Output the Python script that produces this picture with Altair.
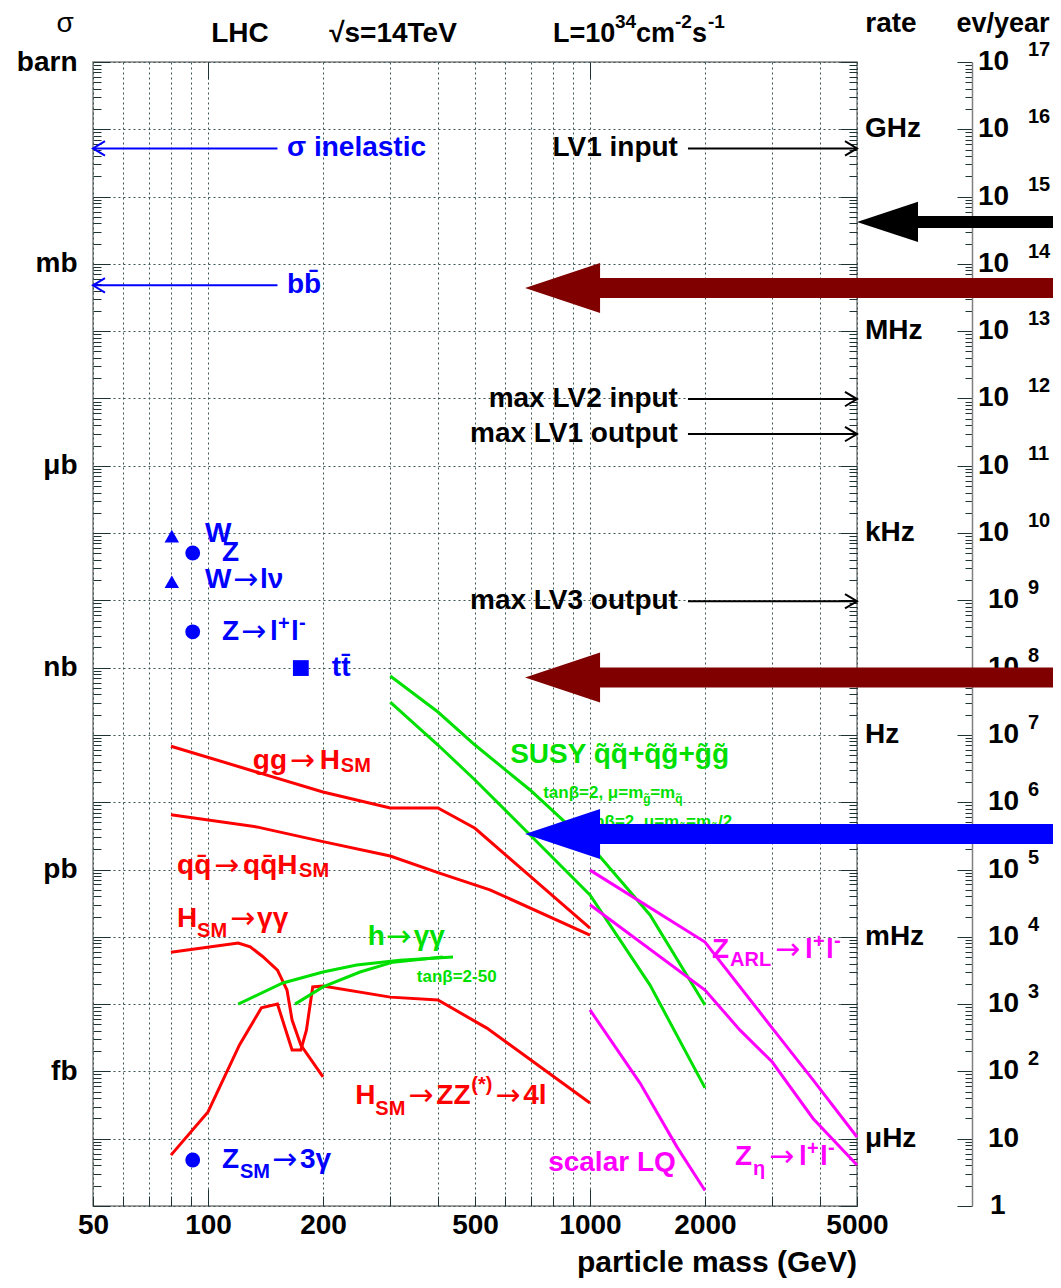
import altair as alt
import pandas as pd

W, H = 764, 1144
FONT = "Liberation Sans"
ARROW_FONT = "DejaVu Sans"
GRID = "#3a5555"
TICK = "#1e3232"
FRAME = "#808080"
RED, GREEN, MAGENTA, BLUE, DARKRED = "#ff0000", "#00e000", "#ff00ff", "#0000ff", "#800000"

# ---------------- series: particle mass (GeV) / cross-section (pb) ----------------
gg_mass = [80, 200, 300, 400, 500, 1000]
gg_xsec = [68, 14.2, 8.2, 8.2, 4.1, 0.135]

qqh_mass = [80, 134, 200, 300, 400, 547, 1000]
qqh_xsec = [6.5, 4.3, 2.6, 1.59, 0.90, 0.50, 0.106]

hgg_mass = [80, 120, 129, 139, 152, 161, 166, 175, 200]
hgg_xsec = [0.059, 0.081, 0.071, 0.051, 0.032, 0.0162, 0.0058, 0.00247, 0.00083]

hzz_mass = [80, 100, 121, 138, 152, 166, 175, 181, 188, 200, 300, 400, 537, 1000]
hzz_xsec = [5.7e-5, 2.5e-4, 2.5e-3, 8.8e-3, 0.010, 0.00208, 0.00208, 0.0041, 0.018,
            0.0186, 0.0127, 0.0115, 4.4e-3, 3.4e-4]

hgg_mssm_a_mass = [120, 157, 200, 245, 318, 438]
hgg_mssm_a_xsec = [0.0100, 0.0206, 0.030, 0.038, 0.045, 0.050]
hgg_mssm_b_mass = [169, 200, 250, 305, 412]
hgg_mssm_b_xsec = [0.0100, 0.018, 0.030, 0.042, 0.050]

susy_a_mass = [300, 400, 500, 697, 1000, 1436, 2000]
susy_a_xsec = [750, 219, 70.8, 15.2, 2.31, 0.211, 0.0097]
susy_b_mass = [300, 400, 500, 697, 1000, 1436, 2000]
susy_b_xsec = [308, 70.8, 21.4, 3.26, 0.418, 0.0192, 5.7e-4]

zarl_a_mass = [1000, 2000, 3000, 3835, 5000]
zarl_a_xsec = [0.98, 0.0837, 4.4e-3, 7.5e-4, 1.06e-4]
zarl_b_mass = [1000, 2000, 2470, 3000, 3835, 5000]
zarl_b_xsec = [0.30, 0.0162, 4.1e-3, 1.38e-3, 2.0e-4, 4.06e-5]

lq_mass = [1000, 1352, 1690, 2000]
lq_xsec = [8.2e-3, 6.7e-4, 7.5e-5, 1.7e-5]

# single measurements (blue markers)
tri_mass = [80.4, 80.4]          # W, W->l nu
tri_xsec = [9.0e4, 1.89e4]
circ_mass = [91.2, 91.2, 91.2]   # Z, Z->ll, Z_SM->3gamma
circ_xsec = [5.05e4, 3.41e3, 4.83e-5]
sq_mass = [175]                  # t tbar
sq_xsec = [986]

# axis ticks / labels
XGRID = [50, 60, 70, 80, 90, 100, 200, 300, 400, 500, 600, 700, 800, 900,
         1000, 2000, 3000, 4000, 5000]
XLABELS = [50, 100, 200, 500, 1000, 2000, 5000]
DECADES = [10.0 ** k for k in range(-5, 13)]
YTICKS = [m * 10.0 ** k for k in range(-5, 12) for m in range(1, 10)] + [1e12]
UNIT_EXP = [12, 9, 6, 3, 0, -3]
UNIT_LAB = ["barn", "mb", "μb", "nb", "pb", "fb"]
RATE_LAB = ["GHz", "MHz", "kHz", "Hz", "mHz", "μHz"]
RATE_XSEC = [1e11, 1e8, 1e5, 1e2, 1e-1, 1e-4]
EV_EXP = list(range(17, 1, -1))

xs = alt.Scale(type="log", domain=[50, 5000], nice=False)
ys = alt.Scale(type="log", domain=[1e-5, 1e12], nice=False)

def XE(axis=None, f="m"):
    return alt.X(f"{f}:Q", scale=xs, axis=axis)

def YE(axis=None, f="s"):
    return alt.Y(f"{f}:Q", scale=ys, axis=axis)

LOGV = "round(log(datum.value)/LN10)"
DEC_TEST = "abs(log(datum.value)/LN10 - round(log(datum.value)/LN10)) < 0.001"
ylab_expr = " : ".join(f"{LOGV} == {e} ? '{l}'" for e, l in zip(UNIT_EXP, UNIT_LAB)) + " : ''"
xlab_expr = "indexof([" + ",".join(str(v) for v in XLABELS) + "], datum.value) >= 0 ? format(datum.value, 'd') : ''"

axis_xa = alt.Axis(orient="bottom", values=XGRID, grid=True, gridDash=[2, 3], gridColor=GRID,
                   gridWidth=1, ticks=False, tickSize=0, domain=False, labelExpr=xlab_expr,
                   labelFont=FONT, labelFontSize=28, labelFontWeight="bold", labelColor="black",
                   labelPadding=5, labelFlush=False, labelOverlap=False, title=None)
axis_ya = alt.Axis(orient="left", values=DECADES, grid=True, gridDash=[2, 3], gridColor=GRID,
                   gridWidth=1, ticks=False, tickSize=0, domain=False, labelExpr=ylab_expr,
                   labelFont=FONT, labelFontSize=28, labelFontWeight="bold", labelColor="black",
                   labelPadding=16, labelFlush=False, labelOverlap=False, title=None)

tick_y = {"condition": {"test": DEC_TEST, "value": 17}, "value": 8}
tick_ev = {"condition": {"test": DEC_TEST, "value": 15}, "value": 7}
tick_x = {"condition": {"test": "datum.value == 100 || datum.value == 1000", "value": 17}, "value": 10}

axis_xb = alt.Axis(orient="top", offset=-H, values=XGRID, tickSize=tick_x, tickColor=TICK,
                   labels=False, domain=False, grid=False, title=None)
axis_yb = alt.Axis(orient="right", offset=-W, values=YTICKS, tickSize=tick_y, tickColor=TICK,
                   labels=False, domain=False, grid=False, title=None)
axis_xc = alt.Axis(orient="bottom", offset=-H, values=[100, 1000], tickSize=17, tickColor=TICK,
                   labels=False, domain=False, grid=False, title=None)
axis_yc = alt.Axis(orient="left", offset=-W, values=YTICKS, tickSize=tick_y, tickColor=TICK,
                   labels=False, domain=False, grid=False, title=None)
axis_yd = alt.Axis(orient="left", offset=-(W + 115), values=YTICKS, tickSize=tick_ev, tickColor=TICK,
                   labels=False, domain=True, domainColor=FRAME, domainWidth=1.5, grid=False, title=None)

carrier_df = pd.DataFrame({"m": [100], "s": [1.0]})
def carrier(xa, ya):
    return alt.Chart(carrier_df).mark_point(opacity=0).encode(x=XE(xa), y=YE(ya))

# ---------------- curves ----------------
series = [
    ("gg", gg_mass, gg_xsec, RED), ("qqh", qqh_mass, qqh_xsec, RED),
    ("hgg", hgg_mass, hgg_xsec, RED), ("hzz", hzz_mass, hzz_xsec, RED),
    ("hgga", hgg_mssm_a_mass, hgg_mssm_a_xsec, GREEN), ("hggb", hgg_mssm_b_mass, hgg_mssm_b_xsec, GREEN),
    ("susya", susy_a_mass, susy_a_xsec, GREEN), ("susyb", susy_b_mass, susy_b_xsec, GREEN),
    ("zarla", zarl_a_mass, zarl_a_xsec, MAGENTA), ("zarlb", zarl_b_mass, zarl_b_xsec, MAGENTA),
    ("lq", lq_mass, lq_xsec, MAGENTA),
]
rows = []
for name, ms, ss, _ in series:
    for m, s in zip(ms, ss):
        rows.append({"series": name, "m": m, "s": s})
lines_df = pd.DataFrame(rows)
lines = alt.Chart(lines_df).mark_line(strokeWidth=3).encode(
    x=XE(axis_xa), y=YE(axis_ya),
    color=alt.Color("series:N", scale=alt.Scale(domain=[s[0] for s in series], range=[s[3] for s in series]), legend=None),
)

def pts(ms, ss, shape, size):
    df = pd.DataFrame({"m": ms, "s": ss})
    return alt.Chart(df).mark_point(shape=shape, filled=True, size=size, color=BLUE, opacity=1).encode(x=XE(), y=YE())

points = [pts(tri_mass, tri_xsec, "triangle-up", 210), pts(circ_mass, circ_xsec, "circle", 220),
          pts(sq_mass, sq_xsec, "square", 250)]

# ---------------- text ----------------
texts = []
def T(m, s, txt, color="black", size=28, dx=0, dy=0, align="left", weight="bold", font=FONT):
    df = pd.DataFrame({"m": [m], "s": [s], "t": [txt]})
    texts.append(alt.Chart(df).mark_text(align=align, baseline="middle", dx=dx, dy=dy, font=font,
                                         fontSize=size, fontWeight=weight, color=color)
                 .encode(x=XE(), y=YE(), text="t:N"))

def TP(m, s, color, parts):
    for txt, dx, dy, size in parts:
        if txt == "→":
            T(m, s, txt, color=color, size=30, dx=dx, dy=dy, weight="normal", font=ARROW_FONT)
        else:
            T(m, s, txt, color=color, size=size, dx=dx, dy=dy)

A = "→"
# header
T(42.3, 3.66e12, "σ", size=28, align="center", weight="normal")
T(121.3, 2.6e12, "LHC", size=28, align="center")
T(305, 2.6e12, "√s=14TeV", size=28, align="center")
TP(800, 2.6e12, "black", [("L=10", 0, 0, 27), ("34", 62, -12, 19), ("cm", 83, 0, 27),
                          ("-2", 122, -12, 19), ("s", 139, 0, 27), ("-1", 155, -12, 19)])
T(6136, 3.66e12, "rate", align="center")
T(12050, 3.66e12, "ev/year", align="center", size=27)
T(5000, 1.4e-6, "particle mass (GeV)", align="right", size=30)

# rate labels
for lab, s in zip(RATE_LAB, RATE_XSEC):
    T(5000, s, lab, dx=8)

# events / year labels
for e in EV_EXP:
    s = 10.0 ** (e - 5)
    T(10000, s, "10", dx=6 if e >= 10 else 16)
    T(10000, s, str(e), size=20, dx=56, dy=-12)
T(10000, 1e-4, "10", dx=16)
T(10000, 1e-5, "1", dx=18)

# blue labels
T(161, 5.2e10, "σ inelastic", color=BLUE)
T(161, 4.8e8, "bb\u0304", color=BLUE)
T(98.2, 9.66e4, "W", color=BLUE)
T(108.8, 5.1e4, "Z", color=BLUE)
TP(98.2, 2.0e4, BLUE, [("W", 0, 0, 28), (A, 28, 0, 30), ("lν", 55, 0, 28)])
TP(108.8, 3.38e3, BLUE, [("Z", 0, 0, 28), (A, 19, 0, 30), ("l", 48, 0, 28), ("+", 56, -8, 20),
                         ("l", 69, 0, 28), ("-", 77, -9, 20)])
T(211, 986, "tt\u0304", color=BLUE)
TP(108.8, 4.8e-5, BLUE, [("Z", 0, 0, 28), ("SM", 18, 12, 20), (A, 50, 0, 30), ("3γ", 78, 0, 28)])

# black trigger labels
for s, lab in [(5.2e10, "LV1 input"), (9.8e6, "max LV2 input"), (2.96e6, "max LV1 output"),
               (9.7e3, "max LV3 output")]:
    T(1699, s, lab, align="right")

# red labels
TP(131, 40.9, RED, [("gg", 0, 0, 28), (A, 37, 0, 30), ("H", 67, 0, 28), ("SM", 88, 5, 20)])
TP(83, 1.13, RED, [("qq\u0304", 0, 0, 28), (A, 37, 0, 30), ("qq\u0304H", 66, 0, 28), ("SM", 122, 5, 20)])
TP(83, 0.184, RED, [("H", 0, 0, 28), ("SM", 20, 12, 20), (A, 53, 0, 30), ("γγ", 80, 0, 28)])
TP(243, 4.3e-4, RED, [("H", 0, 0, 28), ("SM", 20, 13, 20), (A, 53, 0, 30), ("ZZ", 81, 0, 28),
                      ("(*)", 116, -11, 20), (A, 140, 0, 30), ("4l", 168, 0, 28)])

# green labels
TP(262, 0.0993, GREEN, [("h", 0, 0, 28), (A, 18, 0, 30), ("γγ", 46, 0, 28)])
T(352, 0.0253, "tanβ=2-50", color=GREEN, size=17)
T(618, 50.2, "SUSY q\u0303q\u0303+q\u0303g\u0303+g\u0303g\u0303", color=GREEN)
TP(754, 13.7, GREEN, [("tanβ=2, μ=m", 0, 0, 17), ("g\u0303", 100, 6, 12), ("=m", 107, 0, 17),
                      ("q\u0303", 132, 6, 12)])
TP(936, 5.08, GREEN, [("tanβ=2, μ=m", 0, 0, 17), ("g\u0303", 100, 6, 12), ("=m", 107, 0, 17),
                      ("q\u0303", 132, 6, 12), ("/2", 139, 0, 17)])

# magenta labels
TP(2087, 0.0637, MAGENTA, [("Z", 0, 0, 28), ("ARL", 18, 10, 20), (A, 63, 0, 30), ("l", 93, 0, 28),
                           ("+", 101, -8, 20), ("l", 114, 0, 28), ("-", 122, -9, 20)])
TP(2397, 5.3e-5, MAGENTA, [("Z", 0, 0, 28), ("η", 18, 12, 20), (A, 34, 0, 30), ("l", 64, 0, 28),
                           ("+", 72, -8, 20), ("l", 85, 0, 28), ("-", 93, -9, 20)])
T(777, 4.35e-5, "scalar LQ", color=MAGENTA)

# ---------------- arrows ----------------
thin_df = pd.DataFrame({
    "m": [50, 50, 1805, 1805, 1805, 1805],
    "m2": [152, 152, 5000, 5000, 5000, 5000],
    "s": [5.2e10, 4.8e8, 5.2e10, 9.8e6, 2.96e6, 9.7e3],
    "c": [BLUE, BLUE, "black", "black", "black", "black"],
})
thin_rules = alt.Chart(thin_df).mark_rule(strokeWidth=2).encode(
    x=XE(), x2="m2:Q", y=YE(), color=alt.Color("c:N", scale=None))
left_heads = alt.Chart(thin_df.iloc[:2]).mark_point(
    shape="M1,-0.6L0,0L1,0.6", size=576, filled=False, strokeWidth=2, opacity=1, color=BLUE
).encode(x=XE(), y=YE())
right_heads = alt.Chart(thin_df.iloc[2:].assign(tip=5000)).mark_point(
    shape="M-1,-0.6L0,0L-1,0.6", size=576, filled=False, strokeWidth=2, opacity=1, color="black"
).encode(x=XE(f="tip"), y=YE())

big_df = pd.DataFrame({
    "tip": [676, 676, 676],
    "base": [1040, 1040, 1040],
    "end": [20000, 20000, 20000],
    "s": [4.37e8, 713, 3.37],
    "c": [DARKRED, DARKRED, BLUE],
})
big_rules = alt.Chart(big_df).mark_rule(strokeWidth=20, strokeCap="butt").encode(
    x=XE(f="base"), x2="end:Q", y=YE(), color=alt.Color("c:N", scale=None))
big_heads = alt.Chart(big_df).mark_point(
    shape="M0,0L2,-0.667L2,0.667Z", size=5625, filled=True, opacity=1, strokeWidth=0
).encode(x=XE(f="tip"), y=YE(), fill=alt.Fill("c:N", scale=None))

blk_df = pd.DataFrame({"tip": [5000], "base": [7100], "end": [20000], "s": [4.2e9]})
blk_rule = alt.Chart(blk_df).mark_rule(strokeWidth=12, strokeCap="butt", color="black").encode(
    x=XE(f="base"), x2="end:Q", y=YE())
blk_head = alt.Chart(blk_df).mark_point(
    shape="M0,0L2,-0.66L2,0.66Z", size=3721, filled=True, opacity=1, strokeWidth=0, color="black"
).encode(x=XE(f="tip"), y=YE())

layers = ([carrier(axis_xb, axis_yb), carrier(axis_xc, axis_yc), carrier(None, axis_yd), lines]
          + points + texts
          + [thin_rules, left_heads, right_heads, big_rules, big_heads, blk_rule, blk_head])

chart = (alt.layer(*layers)
         .resolve_axis(x="independent", y="independent")
         .properties(width=W, height=H,
                     padding={"left": 85, "top": 54, "right": 196, "bottom": 74},
                     autosize=alt.AutoSizeParams(type="none"))
         .configure(font=FONT)
         .configure_view(stroke=FRAME, strokeWidth=1.5))

chart.save("out.html", embed_options={"renderer": "svg", "actions": False})
